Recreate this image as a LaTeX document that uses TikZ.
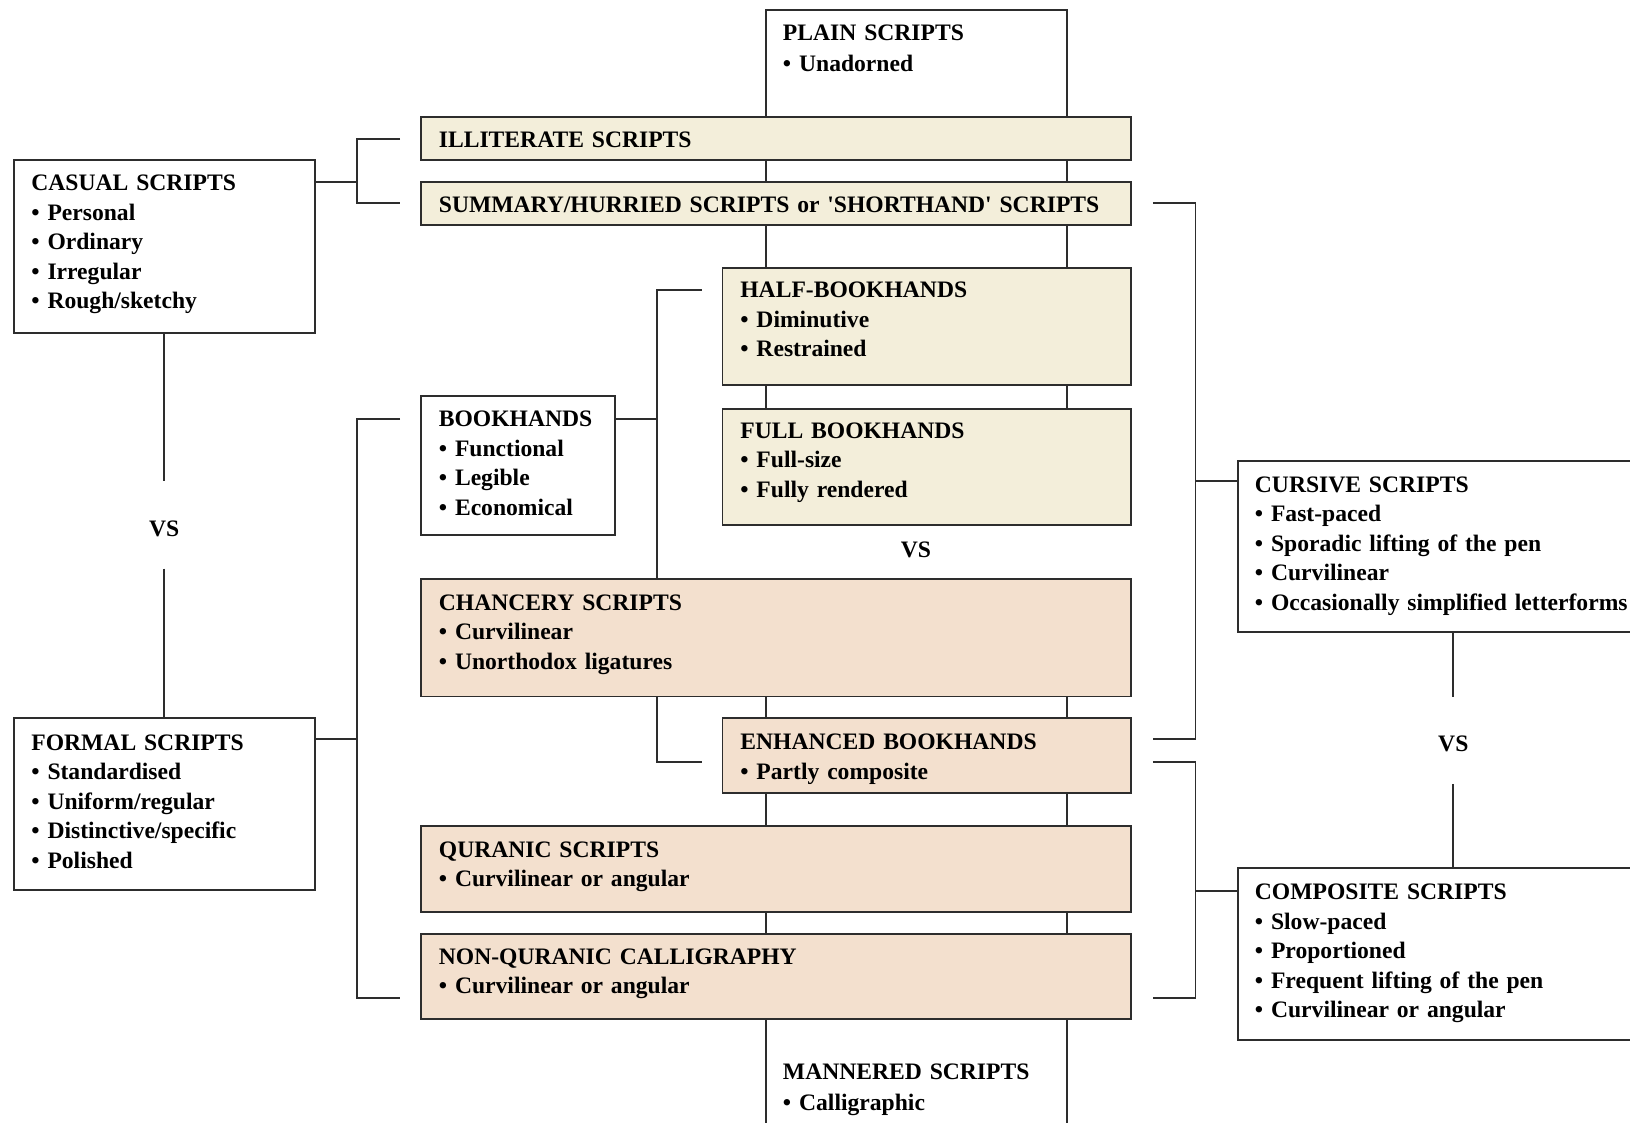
\documentclass[tikz,border=0pt]{standalone}
\usepackage{fontspec}
\setmainfont{Liberation Serif}[Ligatures=TeXOff]
\usetikzlibrary{backgrounds}
\definecolor{creamfill}{RGB}{243,238,218}
\definecolor{peachfill}{RGB}{243,224,206}
\definecolor{linegray}{RGB}{45,45,45}
\tikzset{
  boxline/.style={draw=linegray, line width=1.9pt, anchor=north west, inner sep=0pt, outer sep=0pt},
  creambox/.style={boxline, fill=creamfill},
  peachbox/.style={boxline, fill=peachfill},
  whitebox/.style={boxline, fill=white},
  txt/.style={anchor=base west, inner sep=0pt, text width=700pt, align=left,
    font=\fontsize{22.7}{28.4}\selectfont\bfseries},
  vs/.style={inner sep=0pt, font=\fontsize{22.7}{28}\selectfont\bfseries},
  link/.style={draw=linegray, line width=1.9pt},
}
\begin{document}
\begin{tikzpicture}[x=1pt,y=-1pt]
\useasboundingbox (0,0) rectangle (1568,1080);
\clip (0,0) rectangle (1568,1080);
% plain / mannered column runs behind the middle boxes
\node[boxline, minimum width=289pt, minimum height=495pt] (plain) at (737,10) {};
\node[boxline, minimum width=289pt, minimum height=600pt] (mannered) at (737,557) {};

% boxes
\node[whitebox, minimum width=290pt, minimum height=166pt] (casual) at (13,154) {};
\node[creambox, minimum width=683pt, minimum height=41pt] (illiterate) at (405,113) {};
\node[creambox, minimum width=683pt, minimum height=41pt] (summary) at (405,175) {};
\node[creambox, minimum width=393pt, minimum height=112pt] (half) at (695,258) {};
\node[creambox, minimum width=393pt, minimum height=112pt] (full) at (695,393) {};
\node[whitebox, minimum width=187pt, minimum height=134pt] (bookhands) at (405,381) {};
\node[peachbox, minimum width=683pt, minimum height=113pt] (chancery) at (405,557) {};
\node[peachbox, minimum width=393pt, minimum height=72pt] (enhanced) at (695,691) {};
\node[peachbox, minimum width=683pt, minimum height=82pt] (quranic) at (405,795) {};
\node[peachbox, minimum width=683pt, minimum height=82pt] (nonquranic) at (405,898) {};
\node[whitebox, minimum width=290pt, minimum height=165pt] (formal) at (13,691) {};
\node[whitebox, minimum width=414pt, minimum height=165pt] (cursive) at (1191,443) {};
\node[whitebox, minimum width=414pt, minimum height=165pt] (composite) at (1191,835) {};

% texts
\node[txt] (plaintext) at ([shift={(16,28.5)}]plain.north west) {PLAIN SCRIPTS\\[1.6pt]• Unadorned};
\node[txt] (casualtext) at ([shift={(17,29.5)}]casual.north west)
  {CASUAL SCRIPTS\\• Personal\\• Ordinary\\• Irregular\\• Rough/sketchy};
\node[txt] (illiteratetext) at ([shift={(17,28.5)}]illiterate.north west) {ILLITERATE SCRIPTS};
\node[txt] (summarytext) at ([shift={(17,29)}]summary.north west)
  {SUMMARY/HURRIED SCRIPTS or 'SHORTHAND' SCRIPTS};
\node[txt] (halftext) at ([shift={(17,28.5)}]half.north west)
  {HALF-BOOKHANDS\\• Diminutive\\• Restrained};
\node[txt] (fulltext) at ([shift={(17,28.5)}]full.north west)
  {FULL BOOKHANDS\\• Full-size\\• Fully rendered};
\node[txt] (bookhandstext) at ([shift={(17,29.5)}]bookhands.north west)
  {BOOKHANDS\\• Functional\\• Legible\\• Economical};
\node[txt] (chancerytext) at ([shift={(17,30)}]chancery.north west)
  {CHANCERY SCRIPTS\\• Curvilinear\\• Unorthodox ligatures};
\node[txt] (enhancedtext) at ([shift={(17,30)}]enhanced.north west)
  {ENHANCED BOOKHANDS\\• Partly composite};
\node[txt] (quranictext) at ([shift={(17,29.5)}]quranic.north west)
  {QURANIC SCRIPTS\\• Curvilinear or angular};
\node[txt] (nonquranictext) at ([shift={(17,29.5)}]nonquranic.north west)
  {NON-QURANIC CALLIGRAPHY\\• Curvilinear or angular};
\node[txt] (manneredtext) at ([shift={(16,481.5)}]mannered.north west)
  {MANNERED SCRIPTS\\[1.6pt]• Calligraphic};
\node[txt] (formaltext) at ([shift={(17,30.5)}]formal.north west)
  {FORMAL SCRIPTS\\• Standardised\\• Uniform/regular\\• Distinctive/specific\\• Polished};
\node[txt] (cursivetext) at ([shift={(16,30.5)}]cursive.north west)
  {CURSIVE SCRIPTS\\• Fast-paced\\• Sporadic lifting of the pen\\• Curvilinear\\• Occasionally simplified letterforms};
\node[txt] (compositetext) at ([shift={(16,30.5)}]composite.north west)
  {COMPOSITE SCRIPTS\\• Slow-paced\\• Proportioned\\• Frequent lifting of the pen\\• Curvilinear or angular};

\node[vs] (vsleft) at (158,509) {VS};
\node[vs] (vsmid) at (881,529) {VS};
\node[vs] (vsright) at (1398,716) {VS};

% connectors
\begin{pgfonlayer}{background}
  \draw[link] ([shift={(0,21)}]casual.north east) -- ++(40,0);
  \draw[link] ([shift={(-20,0)}]illiterate.west) -- ++(-42,0) |- ([shift={(-20,0)}]summary.west);
  \draw[link] ([shift={(0,20)}]formal.north east) -- ++(40,0);
  \draw[link] ([shift={(-20,22)}]bookhands.north west) -- ++(-42,0) |- ([shift={(-20,-20)}]nonquranic.south west);
  \draw[link] ([shift={(0,22)}]bookhands.north east) -- ++(40,0);
  \draw[link] ([shift={(-20,21)}]half.north west) -- ++(-43,0) |- ([shift={(-20,42)}]enhanced.north west);
  \draw[link] ([shift={(21,0)}]summary.east) -- ++(41,0) |- ([shift={(21,20)}]enhanced.north east);
  \draw[link] ([shift={(0,20)}]cursive.north west) -- ++(-41,0);
  \draw[link] ([shift={(21,42)}]enhanced.north east) -- ++(41,0) |- ([shift={(21,-20)}]nonquranic.south east);
  \draw[link] ([shift={(0,22)}]composite.north west) -- ++(-41,0);
  \draw[link] (casual.south) -- ([shift={(0,-46)}]vsleft.center);
  \draw[link] ([shift={(0,38)}]vsleft.center) -- (formal.north);
  \draw[link] (cursive.south) -- ([shift={(0,-46)}]vsright.center);
  \draw[link] ([shift={(0,38)}]vsright.center) -- (composite.north);
\end{pgfonlayer}
\end{tikzpicture}
\end{document}
